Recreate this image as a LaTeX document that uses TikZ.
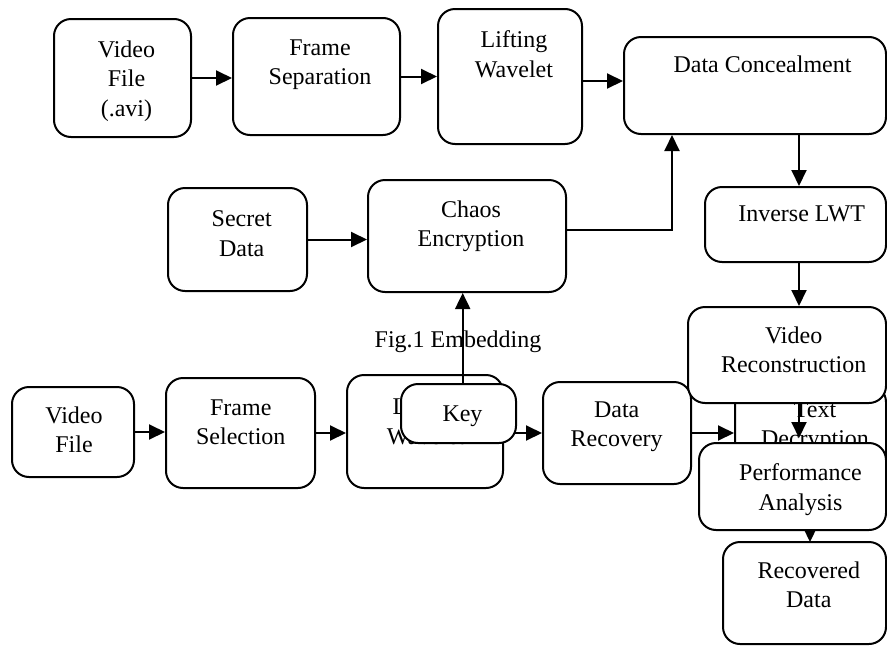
\documentclass[tikz,border=0pt]{standalone}
\usepackage{fontspec}
\setmainfont{Liberation Serif}
\usetikzlibrary{arrows.meta, positioning}
\tikzset{
	x=1pt, y=-1pt, % one unit is one pixel of the sketch
	box/.style={draw, line width=2pt, rounded corners=17pt, fill=white, inner sep=0pt},
	lbl/.style={font=\fontsize{24}{29.5}\selectfont, align=center, inner sep=0pt, anchor=north},
	arr/.style={-{Triangle[length=16pt,width=15pt]}, line width=2pt},
}

\begin{document}
\begin{tikzpicture}
	\useasboundingbox (0,0) rectangle (887,646);
	\coordinate (spine) at (799,0);
	\coordinate (upx) at (672,0);
	\coordinate (keyx) at (462.7,0);
	\coordinate (outx) at (810,0);

	% embedding
	\node[box, minimum width=137, minimum height=118] (vida) at (122.5,78) {};
	\node[lbl] (vidatxt) at (126.5,40.5) {Video\\File\\(.avi)};
	\node[box, minimum width=167, minimum height=117] (fsep) at (316.5,76.5) {};
	\node[lbl] (fseptxt) at (320,39.5) {Frame\\Separation};
	\node[box, minimum width=144, minimum height=135] (lifta) at (510,76.5) {};
	\node[lbl] (liftatxt) at (514,30.5) {Lifting\\Wavelet};
	\node[box, minimum width=262, minimum height=97] (conceal) at (755,85.5) {};
	\node[lbl] (concealtxt) at (762.5,55.5) {Data Concealment};
	\draw[arr] (vida.east) -- (vida.east -| fsep.west);
	\draw[arr] (fsep.east) -- (fsep.east -| lifta.west);
	\draw[arr] ([yshift=-4.5pt]lifta.east) -- ([yshift=-4.5pt]lifta.east -| conceal.west);

	\node[box, minimum width=181, minimum height=75] (invlwt) at (795.5,224.5) {};
	\node[lbl] (invlwttxt) at (801.7,205.5) {Inverse LWT};
	\node[box, minimum width=198, minimum height=112] (chaos) at (467,236) {};
	\node[lbl] (chaostxt) at (471,200.5) {Chaos\\Encryption};
	\node[box, minimum width=139, minimum height=103] (secret) at (237.5,239.5) {};
	\node[lbl] (secrettxt) at (241.7,210.5) {Secret\\Data};
	\draw[arr] (secret.east) -- (secret.east -| chaos.west);
	\draw[arr] ([yshift=6pt]chaos.east) -| (upx |- conceal.south);
	\draw[arr] (conceal.south -| spine) -- (invlwt.north -| spine);

	\node[lbl] (cap) at (458,330.5) {Fig.1 Embedding};

	% extraction
	\node[box, minimum width=122, minimum height=90] (vidb) at (73,432) {};
	\node[lbl] (vidbtxt) at (74,406.5) {Video\\File};
	\node[box, minimum width=149, minimum height=110] (fsel) at (240.5,433) {};
	\node[lbl] (fseltxt) at (240.8,399.5) {Frame\\Selection};
	\node[box, minimum width=156, minimum height=113] (liftb) at (425,431.5) {};
	\node[lbl] (liftbtxt) at (426,397.5) {Lifting\\Wavelet};
	\node[box, minimum width=148, minimum height=102] (drec) at (617,433) {};
	\node[lbl] (drectxt) at (616.7,401.5) {Data\\Recovery};
	\draw[arr] (vidb.east) -- (vidb.east -| fsel.west);
	\draw[arr] (fsel.east) -- (fsel.east -| liftb.west);
	\draw[arr] (liftb.east |- drec.west) -- (drec.west);
	\draw[arr] (keyx |- 0,384) -- (chaos.south -| keyx);
	\node[box, minimum width=115, minimum height=59] (key) at (458.5,413.5) {};
	\node[lbl] (keytxt) at (462.5,405.5) {Key};

	\node[box, minimum width=151, minimum height=96] (tdec) at (810.5,433) {};
	\node[lbl] (tdectxt) at (815,401.5) {Text\\Decryption};
	\draw[arr] (drec.east) -- (drec.east -| tdec.west);
	\draw[arr] (tdec.south -| outx) -- (outx |- 0,542);

	\node[box, minimum width=198, minimum height=96] (vrec) at (787,355) {};
	\node[lbl] (vrectxt) at (793.7,326.5) {Video\\Reconstruction};
	\draw[arr] (invlwt.south -| spine) -- (vrec.north -| spine);
	\draw[arr, shorten >=5pt] (vrec.south -| spine) -- (spine |- 0,443);

	\node[box, minimum width=187, minimum height=87] (perf) at (792.5,486.5) {};
	\node[lbl] (perftxt) at (800.5,463.5) {Performance\\Analysis};
	\node[box, minimum width=163, minimum height=102] (recd) at (804.5,593) {};
	\node[lbl] (recdtxt) at (808.8,561.5) {Recovered\\Data};
\end{tikzpicture}
\end{document}
